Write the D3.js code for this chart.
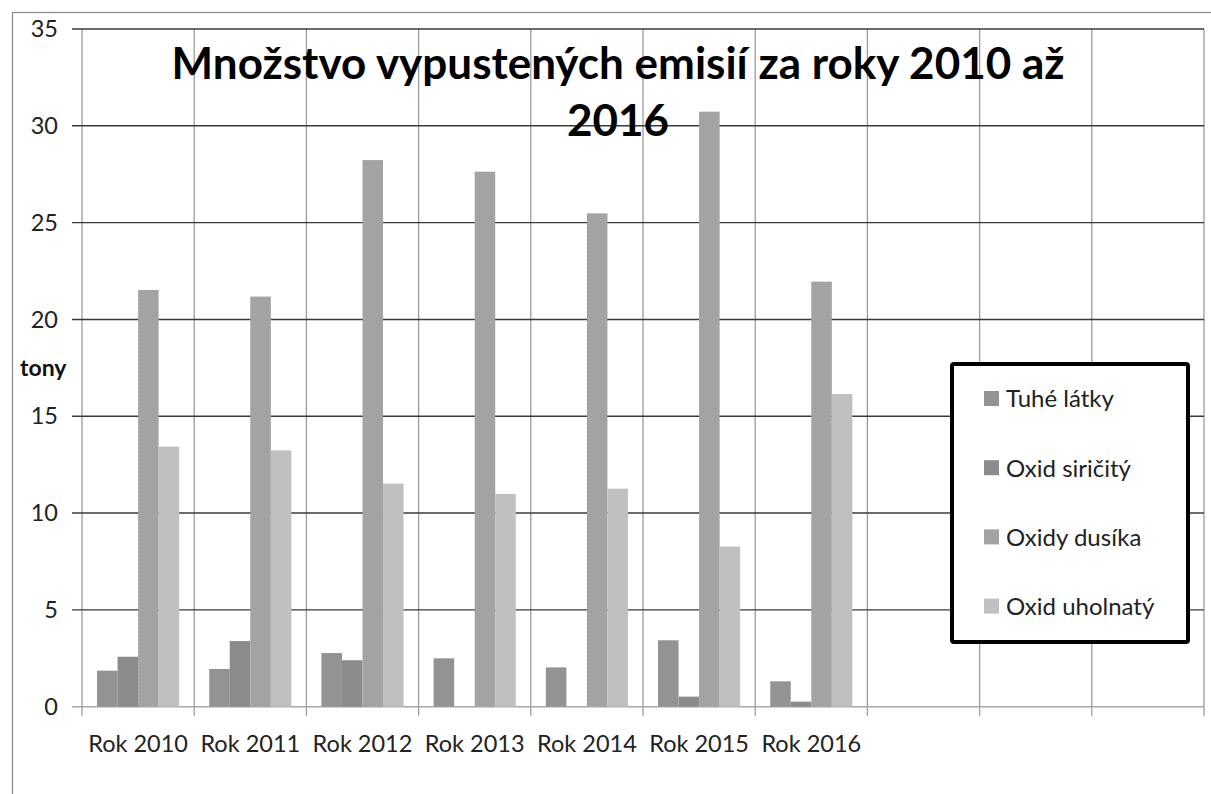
<!DOCTYPE html>
<html>
<head>
<meta charset="utf-8">
<script src="https://cdn.jsdelivr.net/npm/d3@7"></script>
<style>
  html, body { margin: 0; padding: 0; background: #fff; }
  svg { display: block; }
</style>
</head>
<body>
<svg id="chart" width="1211" height="794"></svg>
<script>
const title = ["Množstvo vypustených emisií za roky 2010 až", "2016"];
const yAxisTitle = "tony";
const categories = ["Rok 2010", "Rok 2011", "Rok 2012", "Rok 2013", "Rok 2014", "Rok 2015", "Rok 2016"];
const totalSlots = 10;
const seriesNames = ["Tuhé látky", "Oxid siričitý", "Oxidy dusíka", "Oxid uholnatý"];
const tuheLatky   = [1.86, 1.95, 2.77, 2.50, 2.03, 3.43, 1.31];
const oxidSiricity = [2.58, 3.39, 2.40, 0, 0, 0.52, 0.26];
const oxidyDusika = [21.52, 21.18, 28.23, 27.63, 25.48, 30.73, 21.95];
const oxidUhol    = [13.43, 13.24, 11.52, 10.99, 11.26, 8.27, 16.15];
const yTicks = [0, 5, 10, 15, 20, 25, 30, 35];
const seriesColors = ["#939393", "#8b8b8b", "url(#speckle)", "#c0c0c0"];
const legendColors = ["#939393", "#8b8b8b", "#a3a3a3", "#c0c0c0"];

const seriesValues = [tuheLatky, oxidSiricity, oxidyDusika, oxidUhol];
const FONT = "Lato, 'Open Sans', sans-serif";

const svg = d3.select("#chart");
const defs = svg.append("defs");
const pat = defs.append("pattern").attr("id", "speckle").attr("patternUnits", "userSpaceOnUse")
  .attr("width", 4).attr("height", 4);
pat.append("rect").attr("width", 4).attr("height", 4).attr("fill", "#a4a4a4");
pat.append("rect").attr("x", 0).attr("y", 0).attr("width", 1).attr("height", 1).attr("fill", "#989898");
pat.append("rect").attr("x", 2).attr("y", 2).attr("width", 1).attr("height", 1).attr("fill", "#9a9a9a");
pat.append("rect").attr("x", 3).attr("y", 1).attr("width", 1).attr("height", 1).attr("fill", "#ababab");

// outer chart border (extends beyond the window on right/bottom)
svg.append("rect").attr("x", 12.5).attr("y", 12.5).attr("width", 1300).attr("height", 900)
  .attr("fill", "none").attr("stroke", "#8a8a8a").attr("stroke-width", 1.2);

const plot = { left: 82, right: 1204, top: 29, bottom: 706.7 };

const x = d3.scaleBand().domain(d3.range(totalSlots)).range([plot.left, plot.right]).padding(0);
const xInner = d3.scaleBand().domain(d3.range(seriesNames.length))
  .range([x.bandwidth() * 0.134, x.bandwidth() * (1 - 0.134)]).padding(0);
const y = d3.scaleLinear().domain([0, 35]).range([plot.bottom, plot.top]);

// vertical gridlines (category separators) with tick marks below
const vlines = d3.range(totalSlots + 1).map(i => i < totalSlots ? x(i) : plot.right);
svg.append("g").selectAll("line").data(vlines).join("line")
  .attr("x1", d => d).attr("x2", d => d)
  .attr("y1", plot.top).attr("y2", plot.bottom + 9)
  .attr("stroke", "#9c9c9c").attr("stroke-width", 1.3);

// horizontal gridlines
svg.append("g").selectAll("line").data(yTicks.filter(t => t > 0)).join("line")
  .attr("x1", plot.left - 10).attr("x2", plot.right)
  .attr("y1", d => y(d)).attr("y2", d => y(d))
  .attr("stroke", "#3a3a3a").attr("stroke-width", 1.4);
// zero axis line
svg.append("line").attr("x1", plot.left - 10).attr("x2", plot.right)
  .attr("y1", y(0)).attr("y2", y(0)).attr("stroke", "#a8a8a8").attr("stroke-width", 1.4);

// y tick labels
svg.append("g").selectAll("text").data(yTicks).join("text")
  .attr("x", 58).attr("y", d => y(d)).attr("dy", "0.35em")
  .attr("text-anchor", "end").attr("font-family", FONT).attr("font-size", 23.5)
  .attr("fill", "#222").text(d => d);

// x category labels
svg.append("g").selectAll("text").data(categories).join("text")
  .attr("x", (d, i) => x(i) + x.bandwidth() / 2).attr("y", 752)
  .attr("text-anchor", "middle").attr("font-family", FONT).attr("font-size", 23.5)
  .attr("fill", "#222").text(d => d);

// axis title
svg.append("text").attr("x", 20).attr("y", 376)
  .attr("font-family", FONT).attr("font-size", 23).attr("font-weight", "bold")
  .attr("fill", "#111").text(yAxisTitle);

// bars
const groups = svg.append("g").selectAll("g").data(categories).join("g")
  .attr("transform", (d, i) => `translate(${x(i)},0)`);
groups.selectAll("rect").data((d, i) => seriesValues.map((s, k) => ({ k, v: s[i] })))
  .join("rect")
  .attr("x", d => xInner(d.k)).attr("width", xInner.bandwidth())
  .attr("y", d => y(d.v)).attr("height", d => y(0) - y(d.v))
  .attr("fill", d => seriesColors[d.k]);

// title
svg.append("g").selectAll("text").data(title).join("text")
  .attr("x", 618).attr("y", (d, i) => 79 + i * 57)
  .attr("text-anchor", "middle").attr("font-family", FONT).attr("font-size", 44)
  .attr("font-weight", "bold").attr("fill", "#000").text(d => d);

// legend
const lg = svg.append("g");
lg.append("rect").attr("x", 952).attr("y", 364).attr("width", 236).attr("height", 278)
  .attr("rx", 2).attr("fill", "#fff").attr("stroke", "#000").attr("stroke-width", 4);
const items = lg.selectAll("g.item").data(seriesNames).join("g").attr("class", "item")
  .attr("transform", (d, i) => `translate(984, ${399 + i * 69.2})`);
items.append("rect").attr("x", 0).attr("y", -8).attr("width", 15).attr("height", 15)
  .attr("fill", (d, i) => i === 2 ? "url(#speckle)" : legendColors[i]);
items.append("text").attr("x", 22).attr("y", 0).attr("dy", "0.35em")
  .attr("font-family", FONT).attr("font-size", 24).attr("fill", "#222").text(d => d);
</script>
</body>
</html>
